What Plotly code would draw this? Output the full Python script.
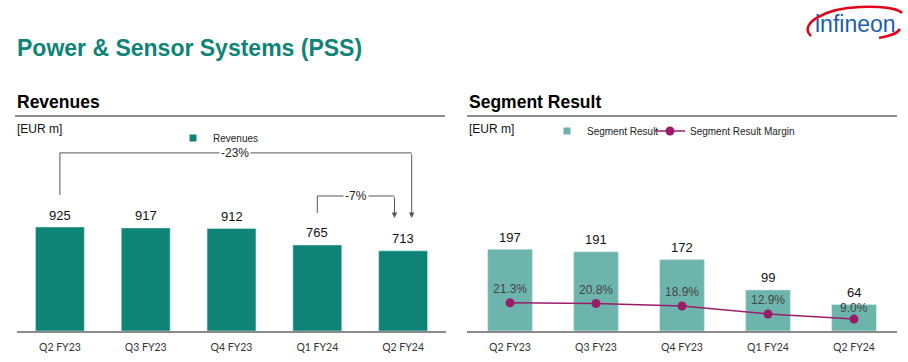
import plotly.graph_objects as go

W, H = 908, 362

quarters = ["Q2 FY23", "Q3 FY23", "Q4 FY23", "Q1 FY24", "Q2 FY24"]
revenues = [925, 917, 912, 765, 713]
segment_result = [197, 191, 172, 99, 64]
segment_margin = [21.3, 20.8, 18.9, 12.9, 9.0]
margin_labels = ["21.3%", "20.8%", "18.9%", "12.9%", "9.0%"]

TEAL = "#0d8475"
LTEAL = "#6db5ac"
MAG = "#9c1c6c"


def px(x):
    return x / W


def py(y):
    return 1 - y / H


fig = go.Figure()

# Left: revenues
fig.add_trace(go.Bar(x=quarters, y=revenues, marker_color=TEAL, width=0.57,
                     xaxis="x", yaxis="y", showlegend=False, hoverinfo="skip"))
fig.add_trace(go.Scatter(x=[None], y=[None], mode="markers", name="Revenues",
                         marker=dict(symbol="square", size=7, color=TEAL),
                         xaxis="x", yaxis="y", legend="legend"))

# Right: segment result
fig.add_trace(go.Bar(x=quarters, y=segment_result, marker_color=LTEAL, width=0.52,
                     xaxis="x2", yaxis="y2", showlegend=False, hoverinfo="skip"))
fig.add_trace(go.Scatter(x=[None], y=[None], mode="markers", name="Segment Result",
                         marker=dict(symbol="square", size=7, color=LTEAL),
                         xaxis="x2", yaxis="y2", legend="legend2"))
fig.add_trace(go.Scatter(x=quarters, y=segment_margin, mode="lines+markers",
                         name="Segment Result Margin",
                         line=dict(color=MAG, width=1.5),
                         marker=dict(size=9, color=MAG),
                         xaxis="x2", yaxis="y3", legend="legend3"))

ybot = py(331)
ytop = py(150)

axis_common = dict(showline=True, linecolor="#8a8a8a", linewidth=1.5, ticks="",
                   showgrid=False, zeroline=False, ticklabelstandoff=6,
                   tickfont=dict(family="Lato, Carlito, Liberation Sans", size=10.5, color="#333"))
yaxis_common = dict(visible=False, showgrid=False, zeroline=False, fixedrange=True)

annotations = []
# bar value labels
for q, v in zip(quarters, revenues):
    annotations.append(dict(x=q, y=v, xref="x", yref="y", text=str(v), showarrow=False,
                            yshift=12, font=dict(family="Liberation Sans, Arial", size=13, color="#111")))
for q, v in zip(quarters, segment_result):
    annotations.append(dict(x=q, y=v, xref="x2", yref="y2", text=str(v), showarrow=False,
                            yshift=12, font=dict(family="Liberation Sans, Arial", size=13, color="#111")))
margin_label_shift = [14, 14, 14, 14, 11]
for q, v, t, s in zip(quarters, segment_margin, margin_labels, margin_label_shift):
    annotations.append(dict(x=q, y=v, xref="x2", yref="y3", text=t, showarrow=False,
                            yshift=s, font=dict(family="Liberation Sans, Arial", size=12, color="#444")))

# headers
annotations += [
    dict(x=px(15), y=py(48), xref="paper", yref="paper", xanchor="left", yanchor="middle",
         text="<b>Power &amp; Sensor Systems (PSS)</b>", showarrow=False,
         font=dict(family="Liberation Sans, Arial", size=23, color=TEAL)),
    dict(x=px(15), y=py(102), xref="paper", yref="paper", xanchor="left", yanchor="middle",
         text="<b>Revenues</b>", showarrow=False,
         font=dict(family="Liberation Sans, Arial", size=17.5, color="#000")),
    dict(x=px(467), y=py(102), xref="paper", yref="paper", xanchor="left", yanchor="middle",
         text="<b>Segment Result</b>", showarrow=False,
         font=dict(family="Liberation Sans, Arial", size=17.5, color="#000")),
    dict(x=px(15), y=py(129), xref="paper", yref="paper", xanchor="left", yanchor="middle",
         text="[EUR m]", showarrow=False,
         font=dict(family="Liberation Sans, Arial", size=12, color="#111")),
    dict(x=px(467), y=py(129), xref="paper", yref="paper", xanchor="left", yanchor="middle",
         text="[EUR m]", showarrow=False,
         font=dict(family="Liberation Sans, Arial", size=12, color="#111")),
    # logo text
    dict(x=px(855), y=py(24), xref="paper", yref="paper", xanchor="center", yanchor="middle",
         text="infineon", showarrow=False,
         font=dict(family="Liberation Sans Narrow, Liberation Sans, Arial", size=23, color="#1b5faa")),
]

# growth brackets
BR = "#555"
annotations.append(dict(x=4.1, y=1005, xref="x", yref="y", ax=4.1, ay=1584, axref="x", ayref="y",
                        text="", showarrow=True, arrowhead=2, arrowsize=1.1, arrowwidth=1, arrowcolor=BR))
annotations.append(dict(x=2.04, y=1584, xref="x", yref="y", text="-23%", showarrow=False,
                        bgcolor="white", font=dict(family="Liberation Sans, Arial", size=12, color="#222")))
annotations.append(dict(x=3.9, y=1005, xref="x", yref="y", ax=3.9, ay=1201, axref="x", ayref="y",
                        text="", showarrow=True, arrowhead=2, arrowsize=1.1, arrowwidth=1, arrowcolor=BR))
annotations.append(dict(x=3.45, y=1201, xref="x", yref="y", text="-7%", showarrow=False,
                        bgcolor="white", font=dict(family="Liberation Sans, Arial", size=12, color="#222")))

shapes = [
    dict(type="line", xref="paper", yref="paper", x0=px(15), x1=px(445), y0=py(116), y1=py(116),
         line=dict(color="#666", width=1.5)),
    dict(type="line", xref="paper", yref="paper", x0=px(467), x1=px(897), y0=py(116), y1=py(116),
         line=dict(color="#666", width=1.5)),
    dict(type="path", xref="x", yref="y", path="M 0,1210 L 0,1584 L 4.1,1584",
         line=dict(color=BR, width=1)),
    dict(type="path", xref="x", yref="y", path="M 3,1050 L 3,1201 L 3.9,1201",
         line=dict(color=BR, width=1)),
    # logo swoosh
    dict(type="path", xref="paper", yref="paper",
         path=f"M {px(811)},{py(36)} C {px(798)},{py(24)} {px(825)},{py(8)} {px(860)},{py(7)} "
              f"C {px(884)},{py(6)} {px(898)},{py(9)} {px(902)},{py(13)}",
         line=dict(color="#e3001b", width=2.5)),
    dict(type="path", xref="paper", yref="paper",
         path=f"M {px(900)},{py(29)} C {px(897)},{py(34)} {px(890)},{py(36)} {px(879)},{py(38)}",
         line=dict(color="#e3001b", width=2.5)),
]

legend_font = dict(family="Liberation Sans, Arial", size=10, color="#222")
fig.update_layout(
    width=W, height=H,
    margin=dict(l=0, r=0, t=0, b=0),
    paper_bgcolor="white", plot_bgcolor="white",
    xaxis=dict(domain=[px(17), px(446)], anchor="y", **axis_common),
    yaxis=dict(domain=[ybot, ytop], range=[0, 1610], anchor="x", **yaxis_common),
    xaxis2=dict(domain=[px(467), px(897)], anchor="y2", **axis_common),
    yaxis2=dict(domain=[ybot, ytop], range=[0, 436], anchor="x2", **yaxis_common),
    yaxis3=dict(overlaying="y2", range=[0, 137], anchor="x2", **yaxis_common),
    legend=dict(x=px(173), y=py(138), xanchor="left", yanchor="middle", orientation="h",
                font=legend_font, itemwidth=30, bgcolor="rgba(0,0,0,0)"),
    legend2=dict(x=px(547), y=py(131), xanchor="left", yanchor="middle", orientation="h",
                 font=legend_font, itemwidth=30, bgcolor="rgba(0,0,0,0)"),
    legend3=dict(x=px(650), y=py(131), xanchor="left", yanchor="middle", orientation="h",
                 font=legend_font, itemwidth=30, bgcolor="rgba(0,0,0,0)"),
    annotations=annotations,
    shapes=shapes,
)

fig.write_html("out.html", config={"displayModeBar": False},
               post_script="document.body.style.margin='0px';")
